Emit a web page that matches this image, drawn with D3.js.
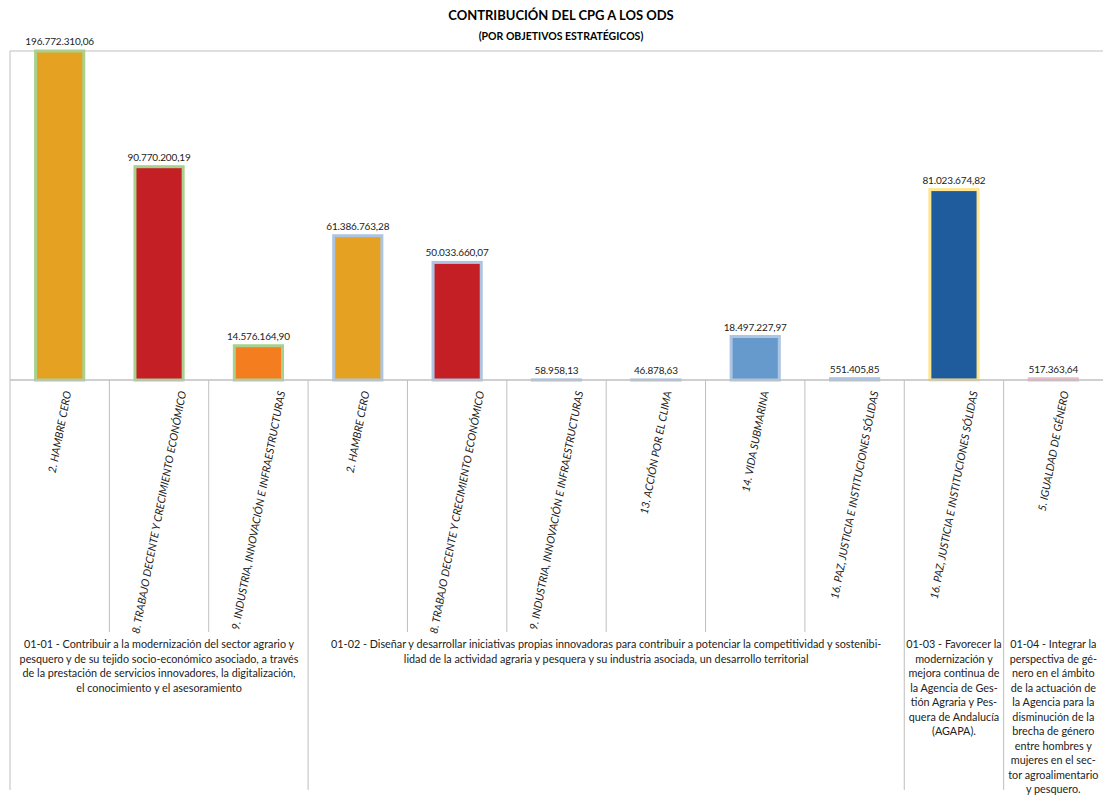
<!DOCTYPE html>
<html>
<head>
<meta charset="utf-8">
<script src="https://cdn.jsdelivr.net/npm/d3@7"></script>
<style>
  body { margin: 0; background: #fff; }
  text { font-family: Lato, "Open Sans", sans-serif; fill: #222; }
</style>
</head>
<body>
<div id="chart"></div>
<script>
// ODS per category (in order of appearance)
const categories = [
  "2. HAMBRE CERO",
  "8. TRABAJO DECENTE Y CRECIMIENTO ECONÓMICO",
  "9. INDUSTRIA, INNOVACIÓN E INFRAESTRUCTURAS",
  "2. HAMBRE CERO",
  "8. TRABAJO DECENTE Y CRECIMIENTO ECONÓMICO",
  "9. INDUSTRIA, INNOVACIÓN E INFRAESTRUCTURAS",
  "13. ACCIÓN POR EL CLIMA",
  "14. VIDA SUBMARINA",
  "16. PAZ, JUSTICIA E INSTITUCIONES SÓLIDAS",
  "16. PAZ, JUSTICIA E INSTITUCIONES SÓLIDAS",
  "5. IGUALDAD DE GÉNERO"
];
const values = [
  196772310.06, 90770200.19, 14576164.90,
  61386763.28, 50033660.07, 58958.13, 46878.63, 18497227.97, 551405.85,
  81023674.82,
  517363.64
];
const groupOf = [0, 0, 0, 1, 1, 1, 1, 1, 1, 2, 3];
const groupLabels = [
  ["01-01 - Contribuir a la modernización del sector agrario y",
   "pesquero y de su tejido socio-económico asociado, a través",
   "de la prestación de servicios innovadores, la digitalización,",
   "el conocimiento y el asesoramiento"],
  ["01-02 - Diseñar y desarrollar iniciativas propias innovadoras para contribuir a potenciar la competitividad y sostenibi-",
   "lidad de la actividad agraria y pesquera y su industria asociada, un desarrollo territorial"],
  ["01-03 - Favorecer la", "modernización y", "mejora continua de", "la Agencia de Ges-",
   "tión Agraria y Pes-", "quera de Andalucía", "(AGAPA)."],
  ["01-04 - Integrar la", "perspectiva de gé-", "nero  en el ámbito", "de la actuación de",
   "la Agencia para la", "disminución de la", "brecha de género", "entre hombres y",
   "mujeres en el sec-", "tor agroalimentario", "y pesquero."]
];
const yMax = 140000000;

// colours
const odsColor = { "2": "#e4a122", "8": "#c51f26", "9": "#f47d20", "13": "#6e9c3c",
                   "14": "#6699cc", "16": "#1f5c9e", "5": "#e8b4c6" };
const groupStroke = ["#a9d18e", "#adc5e2", "#ffe58f", "#e6bccb"];

const width = 1103, height = 797;
const plotTop = 51, base = 380, labelBottom = 632, plotBottom = 790, left = 10;

const svg = d3.select("#chart").append("svg")
  .attr("width", width).attr("height", height);

const x = d3.scaleBand().domain(d3.range(categories.length)).range([left, width]).padding(0);
const y = d3.scaleLinear().domain([0, yMax]).range([base, plotTop]).clamp(true);
const bw = x.bandwidth() * 0.485;

svg.append("text").attr("x", 561).attr("y", 20).attr("text-anchor", "middle")
  .style("font-weight", "bold").style("font-size", "13px").style("fill", "#000")
  .text("CONTRIBUCIÓN DEL CPG A LOS ODS");
svg.append("text").attr("x", 561).attr("y", 40).attr("text-anchor", "middle")
  .style("font-weight", "bold").style("font-size", "10.5px").style("fill", "#000")
  .text("(POR OBJETIVOS ESTRATÉGICOS)");

const grid = "#bfbfbf";
// plot frame: top and left
svg.append("line").attr("x1", left).attr("x2", width).attr("y1", plotTop).attr("y2", plotTop)
  .attr("stroke", grid).attr("stroke-width", 1);
svg.append("line").attr("x1", left).attr("x2", left).attr("y1", plotTop).attr("y2", plotBottom)
  .attr("stroke", grid).attr("stroke-width", 1);

// bars
svg.selectAll(".bar").data(values).enter().append("rect")
  .attr("class", "bar")
  .attr("x", (d, i) => x(i) + (x.bandwidth() - bw) / 2)
  .attr("width", bw)
  .attr("y", d => y(d))
  .attr("height", d => base - y(d))
  .attr("fill", (d, i) => odsColor[categories[i].split(".")[0]])
  .attr("stroke", (d, i) => groupStroke[groupOf[i]])
  .attr("stroke-width", 3);

// baseline
svg.append("line").attr("x1", left).attr("x2", width).attr("y1", base).attr("y2", base)
  .attr("stroke", grid).attr("stroke-width", 1.3);

// value labels
const fmt = d3.formatLocale({ decimal: ",", thousands: ".", grouping: [3], currency: ["", ""] }).format(",.2f");
svg.selectAll(".val").data(values).enter().append("text")
  .attr("x", (d, i) => x(i) + x.bandwidth() / 2)
  .attr("y", d => y(d) - 6)
  .attr("text-anchor", "middle")
  .style("font-size", "10px")
  .style("letter-spacing", "-0.15px")
  .text(d => fmt(d));

// category separators
d3.range(1, categories.length).forEach(i => {
  const gEdge = groupOf[i] !== groupOf[i - 1];
  svg.append("line").attr("x1", x(i)).attr("x2", x(i))
    .attr("y1", base).attr("y2", gEdge ? plotBottom : labelBottom)
    .attr("stroke", grid).attr("stroke-width", 1);
});

// rotated category labels: centred on the band, top-aligned under the axis
const ang = 79, rad = ang * Math.PI / 180;
svg.selectAll(".cat").data(categories).enter().append("text")
  .attr("class", "cat")
  .attr("text-anchor", "middle")
  .attr("dy", "0.35em")
  .style("font-size", "10.8px")
  .style("font-style", "italic")
  .text(d => d)
  .attr("transform", function (d, i) {
    const L = this.getComputedTextLength();
    const cy = base + 10 + (L / 2) * Math.sin(rad) + 6 * Math.cos(rad);
    return `translate(${x(i) + x.bandwidth() / 2},${cy}) rotate(${-ang})`;
  });

// group labels
groupLabels.forEach((lines, g) => {
  const idx = d3.range(categories.length).filter(i => groupOf[i] === g);
  const x0 = x(idx[0]), x1 = x(idx[idx.length - 1]) + x.bandwidth();
  const t = svg.append("text").attr("text-anchor", "middle").style("font-size", "10.8px");
  lines.forEach((l, k) => {
    t.append("tspan").attr("x", (x0 + x1) / 2).attr("y", 648 + k * 14.5).text(l);
  });
});
</script>
</body>
</html>
